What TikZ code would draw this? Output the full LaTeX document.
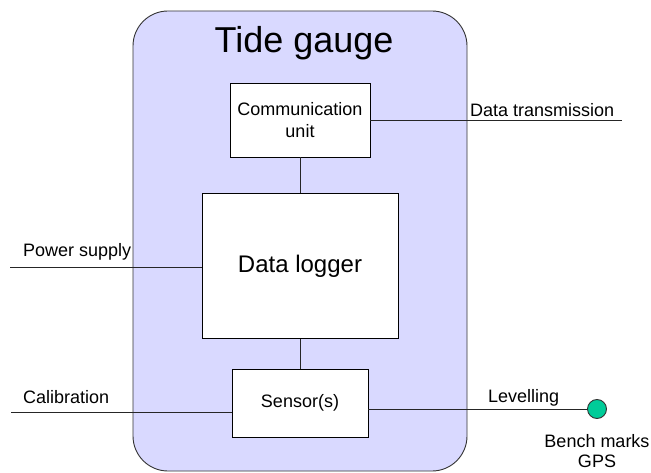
\documentclass[tikz,border=0pt]{standalone}
\usepackage{fontspec}
\setmainfont{Liberation Sans}
\usepackage{xcolor}
\definecolor{gaugefill}{RGB}{217,217,255}
\definecolor{benchgreen}{RGB}{0,204,153}

\begin{document}
\begin{tikzpicture}
    \def\dx{1pt}
    \def\dy{1pt}

    \tikzstyle{gauge}=[draw=black!80,line width=0.9pt,fill=gaugefill,rounded corners=35pt,minimum width=334pt,minimum height=460pt]
    \tikzstyle{title}=[font=\fontsize{36}{43}\selectfont]
    \tikzstyle{unit}=[draw=black,line width=0.9pt,fill=white,align=center,font=\fontsize{18}{22.5}\selectfont]
    \tikzstyle{label}=[font=\fontsize{18}{22.5}\selectfont,inner sep=0pt]
    \tikzstyle{benchpt}=[circle,draw=black!80,line width=0.9pt,fill=benchgreen,minimum size=19pt,inner sep=0pt]

    \useasboundingbox (0,0) rectangle (651*\dx,-473*\dy);

    \node[gauge]  (gauge) at (300*\dx,-241*\dy) {};
    \node[title,anchor=base]  (title) at (304*\dx,-53*\dy) {Tide gauge};
    \node[unit,minimum width=140pt,minimum height=74pt]  (comm) at (300*\dx,-120*\dy) {Communication\\unit};
    \node[unit,minimum width=196pt,minimum height=145pt,font=\fontsize{24}{29}\selectfont]  (logger) at (300*\dx,-266*\dy) {Data logger};
    \node[unit,minimum width=136pt,minimum height=68pt]  (sensor) at (300*\dx,-403*\dy) {Sensor(s)};
    \node[benchpt]  (bench) at (597*\dx,-409*\dy) {};

    \coordinate (txend) at (622*\dx,-120*\dy);
    \coordinate (pwr) at (10*\dx,-267*\dy);
    \coordinate (cal) at (11*\dx,-412*\dy);

    \node[label,anchor=base west]  (txlabel) at (470*\dx,-117*\dy) {Data transmission};
    \node[label,anchor=base west]  (pwrlabel) at (23*\dx,-257*\dy) {Power supply};
    \node[label,anchor=base west]  (callabel) at (23*\dx,-403*\dy) {Calibration};
    \node[label,anchor=base west]  (levlabel) at (488*\dx,-402*\dy) {Levelling};
    \node[label,align=center,font=\fontsize{18}{20}\selectfont,anchor=north]  (benchlabel) at (597*\dx,-434*\dy) {Bench marks\\GPS};

    \tikzstyle{wire} = [draw=black!85, line width=0.9pt]

          \draw [wire] (comm) -- (logger);
          \draw [wire] (logger) -- (sensor);
          \draw [wire] (comm.east) -- (txend);
          \draw [wire] (pwr) -- (pwr -| logger.west);
          \draw [wire] (cal) -- (cal -| sensor.west);
          \draw [wire] (sensor.east |- bench) -- (bench.west);

  \end{tikzpicture}
\end{document}
